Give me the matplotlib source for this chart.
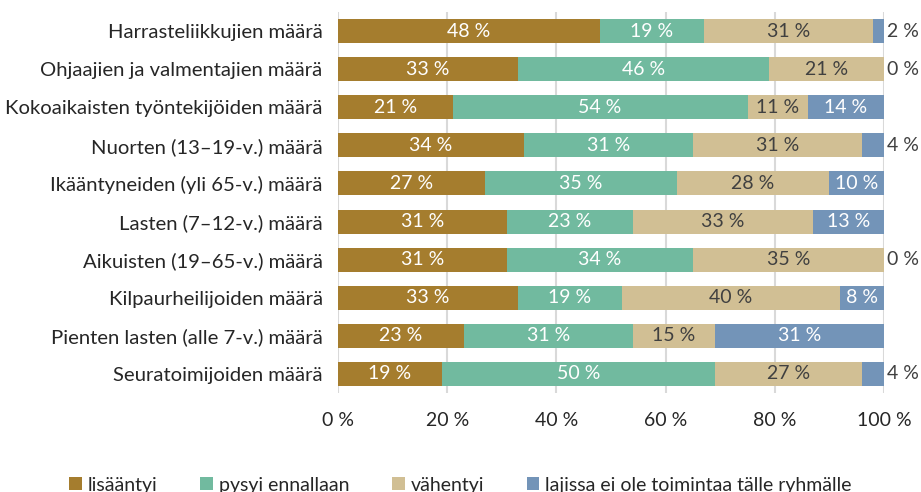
import matplotlib
matplotlib.use("Agg")
import matplotlib.pyplot as plt
import numpy as np

plt.rcParams['font.family'] = ['Lato', 'DejaVu Sans']

categories = [
    "Harrasteliikkujien määrä",
    "Ohjaajien ja valmentajien määrä",
    "Kokoaikaisten työntekijöiden määrä",
    "Nuorten (13–19-v.) määrä",
    "Ikääntyneiden (yli 65-v.) määrä",
    "Lasten (7–12-v.) määrä",
    "Aikuisten (19–65-v.) määrä",
    "Kilpaurheilijoiden määrä",
    "Pienten lasten (alle 7-v.) määrä",
    "Seuratoimijoiden määrä",
]
lisaantyi = [48, 33, 21, 34, 27, 31, 31, 33, 23, 19]
pysyi = [19, 46, 54, 31, 35, 23, 34, 19, 31, 50]
vahentyi = [31, 21, 11, 31, 28, 33, 35, 40, 15, 27]
ei_toimintaa = [2, 0, 14, 4, 10, 13, 0, 8, 31, 4]

series_names = ["lisääntyi", "pysyi ennallaan", "vähentyi",
                "lajissa ei ole toimintaa tälle ryhmälle"]
colors = ["#A57D2E", "#71BA9F", "#D1BF94", "#7394B8"]
text_colors = ["white", "white", "#404040", "white"]
xticks = [0, 20, 40, 60, 80, 100]
xticklabels = ["0 %", "20 %", "40 %", "60 %", "80 %", "100 %"]

fig = plt.figure(figsize=(9.21, 4.92), dpi=100)
ax = fig.add_axes([338/921, 1-393/492, 546/921, 381/492])

data = [lisaantyi, pysyi, vahentyi, ei_toimintaa]
y = np.arange(len(categories))
left = np.zeros(len(categories))
fs = 14.0
for vals, col, tc, name in zip(data, colors, text_colors, series_names):
    vals = np.array(vals, dtype=float)
    ax.barh(y, vals, left=left, height=0.63, color=col, label=name, zorder=3)
    for i, v in enumerate(vals):
        if v >= 6:
            ax.text(left[i] + v/2, y[i], f"{v:.0f} %", ha='center', va='center',
                    color=tc, fontsize=fs, zorder=4)
        elif col == colors[3]:
            ax.text(100.5, y[i], f"{v:.0f} %", ha='left', va='center',
                    color="#404040", fontsize=fs, zorder=4, clip_on=False)
    left += vals

ax.set_xlim(0, 100)
ax.set_ylim(len(categories) - 0.5, -0.5)
ax.set_yticks(y)
ax.set_yticklabels(categories, fontsize=14.6, color="#262626")
ax.set_xticks(xticks)
ax.set_xticklabels(xticklabels, fontsize=fs, color="#262626")
ax.tick_params(axis='both', length=0)
ax.tick_params(axis='y', pad=11)
ax.tick_params(axis='x', pad=14)
for s in ax.spines.values():
    s.set_visible(False)
ax.grid(axis='x', color="#D9D9D9", linewidth=1.5, zorder=0)

handles, labels = ax.get_legend_handles_labels()
fig.legend(handles, labels, loc='center', bbox_to_anchor=(0.5, 1-485/492),
           ncol=4, frameon=False, fontsize=fs, handlelength=0.65, handleheight=0.65,
           handletextpad=0.3, columnspacing=2.2, labelcolor="#262626")

fig.savefig("out.png", dpi=100)
